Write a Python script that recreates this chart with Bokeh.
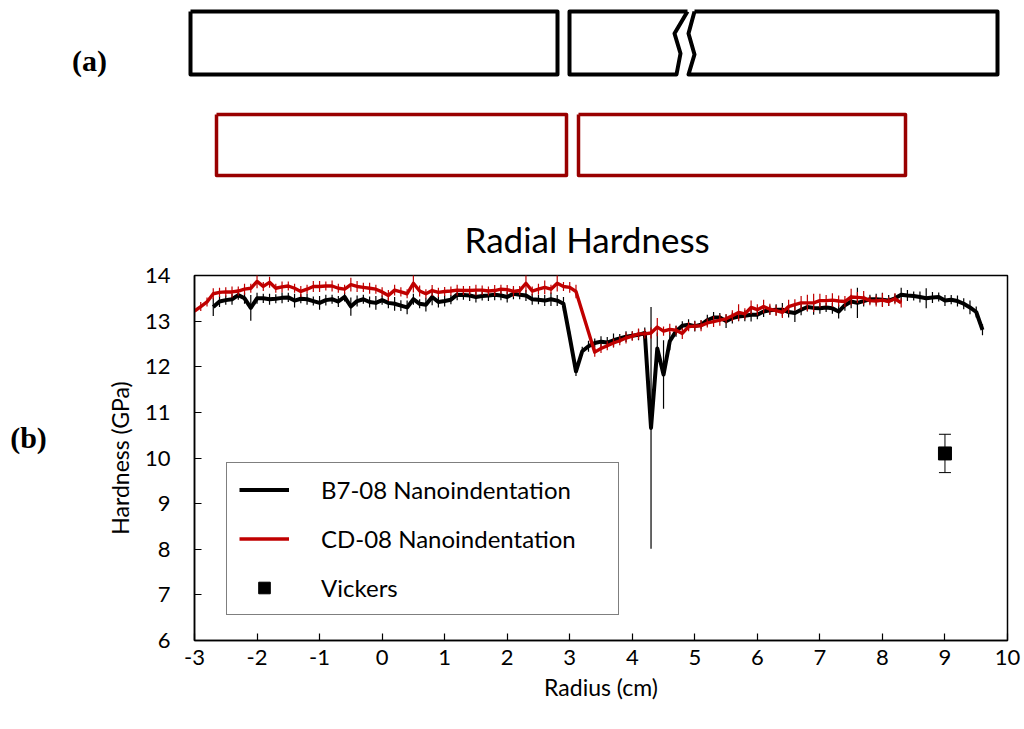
from bokeh.plotting import figure
from bokeh.layouts import column, row
from bokeh.models import (Range1d, Legend, LegendItem, Whisker, ColumnDataSource,
                          FixedTicker, TeeHead)
from bokeh.core.properties import value
from bokeh.embed import file_html
from bokeh.resources import INLINE

# ---------------- data ----------------
b7_radius = [-2.7, -2.6, -2.5, -2.4, -2.3, -2.2, -2.1, -2.0, -1.9, -1.8,
             -1.7, -1.6, -1.5, -1.4, -1.3, -1.2, -1.1, -1.0, -0.9, -0.8,
             -0.7, -0.6, -0.5, -0.4, -0.3, -0.2, -0.1, 0.0, 0.1, 0.2,
             0.3, 0.4, 0.5, 0.6, 0.7, 0.8, 0.9, 1.0, 1.1, 1.2,
             1.3, 1.4, 1.5, 1.6, 1.7, 1.8, 1.9, 2.0, 2.1, 2.2,
             2.3, 2.4, 2.5, 2.6, 2.7, 2.8, 2.9, 3.0, 3.1, 3.2,
             3.3, 3.4, 3.5, 3.6, 3.7, 3.8, 3.9, 4.0, 4.1, 4.2,
             4.3, 4.4, 4.5, 4.6, 4.7, 4.8, 4.9, 5.0, 5.1, 5.2,
             5.3, 5.4, 5.5, 5.6, 5.7, 5.8, 5.9, 6.0, 6.1, 6.2,
             6.3, 6.4, 6.5, 6.6, 6.7, 6.8, 6.9, 7.0, 7.1, 7.2,
             7.3, 7.4, 7.5, 7.6, 7.7, 7.8, 7.9, 8.0, 8.1, 8.2,
             8.3, 8.4, 8.5, 8.6, 8.7, 8.8, 8.9, 9.0, 9.1, 9.2,
             9.3, 9.4, 9.5, 9.6]
b7_hardness = [13.31, 13.43, 13.46, 13.48, 13.57, 13.50, 13.29, 13.50, 13.50, 13.48,
               13.49, 13.51, 13.52, 13.45, 13.49, 13.48, 13.44, 13.40, 13.46, 13.48,
               13.43, 13.53, 13.32, 13.44, 13.48, 13.42, 13.40, 13.46, 13.40, 13.38,
               13.34, 13.30, 13.48, 13.38, 13.36, 13.53, 13.42, 13.44, 13.47, 13.58,
               13.57, 13.56, 13.53, 13.55, 13.56, 13.58, 13.56, 13.53, 13.60, 13.58,
               13.56, 13.48, 13.47, 13.45, 13.48, 13.45, 13.38, 12.65, 11.90, 12.34,
               12.45, 12.52, 12.55, 12.53, 12.58, 12.62, 12.66, 12.68, 12.70, 12.74,
               10.66, 12.40, 11.83, 12.56, 12.78, 12.90, 12.92, 12.89, 12.92, 13.02,
               13.08, 13.08, 13.00, 13.07, 13.10, 13.12, 13.14, 13.14, 13.21, 13.24,
               13.25, 13.25, 13.20, 13.18, 13.25, 13.31, 13.29, 13.28, 13.30, 13.28,
               13.21, 13.35, 13.43, 13.40, 13.44, 13.48, 13.48, 13.47, 13.45, 13.50,
               13.58, 13.56, 13.55, 13.53, 13.50, 13.52, 13.53, 13.45, 13.47, 13.44,
               13.38, 13.30, 13.20, 12.81]
b7_err = [0.20, 0.12, 0.10, 0.12, 0.10, 0.12, 0.28, 0.12, 0.10, 0.12,
          0.10, 0.12, 0.10, 0.15, 0.10, 0.12, 0.10, 0.15, 0.12, 0.10,
          0.12, 0.10, 0.20, 0.12, 0.10, 0.12, 0.15, 0.10, 0.12, 0.15,
          0.12, 0.15, 0.12, 0.10, 0.15, 0.18, 0.12, 0.12, 0.10, 0.12,
          0.10, 0.12, 0.12, 0.10, 0.12, 0.12, 0.10, 0.12, 0.12, 0.10,
          0.12, 0.12, 0.10, 0.12, 0.15, 0.12, 0.15, 0.12, 0.10, 0.10,
          0.12, 0.10, 0.12, 0.12, 0.15, 0.10, 0.12, 0.10, 0.12, 0.12,
          2.65, 0.35, 0.75, 0.20, 0.12, 0.10, 0.12, 0.12, 0.10, 0.12,
          0.12, 0.10, 0.15, 0.12, 0.10, 0.12, 0.15, 0.10, 0.12, 0.10,
          0.12, 0.15, 0.12, 0.20, 0.12, 0.10, 0.15, 0.12, 0.10, 0.12,
          0.15, 0.12, 0.15, 0.33, 0.12, 0.10, 0.12, 0.15, 0.12, 0.10,
          0.15, 0.12, 0.10, 0.12, 0.22, 0.12, 0.10, 0.12, 0.10, 0.12,
          0.12, 0.15, 0.12, 0.12]

cd_radius = [-3.0, -2.9, -2.8, -2.7, -2.6, -2.5, -2.4, -2.3, -2.2, -2.1,
             -2.0, -1.9, -1.8, -1.7, -1.6, -1.5, -1.4, -1.3, -1.2, -1.1,
             -1.0, -0.9, -0.8, -0.7, -0.6, -0.5, -0.4, -0.3, -0.2, -0.1,
             0.0, 0.1, 0.2, 0.3, 0.4, 0.5, 0.6, 0.7, 0.8, 0.9,
             1.0, 1.1, 1.2, 1.3, 1.4, 1.5, 1.6, 1.7, 1.8, 1.9,
             2.0, 2.1, 2.2, 2.3, 2.4, 2.5, 2.6, 2.7, 2.8, 2.9,
             3.0, 3.1,
             3.4, 3.5, 3.6, 3.7, 3.8, 3.9, 4.0, 4.1, 4.2, 4.3,
             4.4, 4.5, 4.6, 4.7, 4.8, 4.9, 5.0, 5.1, 5.2, 5.3,
             5.4, 5.5, 5.6, 5.7, 5.8, 5.9, 6.0, 6.1, 6.2, 6.3,
             6.4, 6.5, 6.6, 6.7, 6.8, 6.9, 7.0, 7.1, 7.2, 7.3,
             7.4, 7.5, 7.6, 7.7, 7.8, 7.9, 8.0, 8.1, 8.2, 8.3]
cd_hardness = [13.22, 13.32, 13.42, 13.60, 13.63, 13.64, 13.64, 13.66, 13.70, 13.72,
               13.87, 13.76, 13.85, 13.72, 13.75, 13.77, 13.72, 13.65, 13.70, 13.76,
               13.76, 13.77, 13.77, 13.72, 13.70, 13.80, 13.76, 13.74, 13.72, 13.70,
               13.64, 13.56, 13.68, 13.64, 13.60, 13.83, 13.66, 13.60, 13.67, 13.63,
               13.65, 13.66, 13.68, 13.67, 13.67, 13.68, 13.68, 13.66, 13.67, 13.70,
               13.69, 13.65, 13.67, 13.83, 13.66, 13.70, 13.74, 13.70, 13.83, 13.76,
               13.74, 13.65,
               12.32, 12.40, 12.46, 12.52, 12.57, 12.63, 12.67, 12.72, 12.72, 12.74,
               12.87, 12.78, 12.82, 12.80, 12.73, 12.88, 12.89, 12.90, 12.96, 12.99,
               13.02, 13.05, 13.12, 13.19, 13.16, 13.30, 13.25, 13.32, 13.26, 13.23,
               13.19, 13.32, 13.36, 13.40, 13.40, 13.40, 13.45, 13.45, 13.46, 13.44,
               13.43, 13.53, 13.52, 13.51, 13.45, 13.44, 13.46, 13.43, 13.49, 13.40]
cd_err = [0.12, 0.10, 0.10, 0.12, 0.10, 0.10, 0.12, 0.10, 0.12, 0.10,
          0.15, 0.10, 0.12, 0.10, 0.12, 0.10, 0.10, 0.12, 0.10, 0.12,
          0.12, 0.10, 0.12, 0.10, 0.10, 0.15, 0.12, 0.10, 0.12, 0.10,
          0.10, 0.12, 0.12, 0.10, 0.10, 0.20, 0.12, 0.10, 0.12, 0.10,
          0.10, 0.10, 0.12, 0.10, 0.10, 0.12, 0.10, 0.10, 0.12, 0.10,
          0.10, 0.12, 0.10, 0.20, 0.10, 0.12, 0.15, 0.10, 0.18, 0.10,
          0.12, 0.15,
          0.10, 0.10, 0.10, 0.10, 0.10, 0.12, 0.10, 0.12, 0.10, 0.12,
          0.20, 0.10, 0.12, 0.10, 0.12, 0.10, 0.10, 0.12, 0.10, 0.12,
          0.12, 0.10, 0.12, 0.18, 0.12, 0.15, 0.12, 0.15, 0.12, 0.12,
          0.12, 0.15, 0.12, 0.15, 0.18, 0.20, 0.15, 0.12, 0.15, 0.12,
          0.12, 0.18, 0.12, 0.15, 0.10, 0.12, 0.15, 0.10, 0.12, 0.10]

vick_radius = [9.0]
vick_hardness = [10.1]
vick_err = [0.42]

x_ticks = [-3, -2, -1, 0, 1, 2, 3, 4, 5, 6, 7, 8, 9, 10]
y_ticks = [6, 7, 8, 9, 10, 11, 12, 13, 14]

# schematic (a): sample outlines in page pixels
sample_b7_xs = [[190, 557, 557, 190, 190],
                [687, 569, 569, 676, 680, 674, 687],
                [694, 997, 997, 688, 694, 688, 694]]
sample_b7_ys = [[11, 11, 74, 74, 11],
                [11, 11, 74, 74, 53, 33, 11],
                [11, 11, 74, 74, 54, 33, 11]]
sample_cd_xs = [[216, 566, 566, 216, 216],
                [578, 905, 905, 578, 578]]
sample_cd_ys = [[114, 114, 175, 175, 114],
                [114, 114, 175, 175, 114]]

FONT = "Lato"
BLACK = "#000000"
RED = "#C00000"

# ---------------- top schematic ----------------
top = figure(width=1024, height=200, x_range=Range1d(0, 1024), y_range=Range1d(200, 0),
             output_backend="svg", toolbar_location=None, min_border=0,
             x_axis_location=None, y_axis_location=None)
top.frame_align = False
top.grid.visible = False
top.outline_line_color = None
top.multi_line(xs=sample_b7_xs, ys=sample_b7_ys, line_color="black", line_width=4,
               line_join="round")
top.multi_line(xs=sample_cd_xs, ys=sample_cd_ys, line_color="#990000", line_width=3.5,
               line_join="round")
top.text(x=[89], y=[60], text=["(a)"], text_font=value("Liberation Serif"),
         text_font_style="bold", text_font_size="30px", text_align="center",
         text_baseline="middle", text_color="black")

# ---------------- panel label (b) ----------------
side = figure(width=60, height=529, x_range=Range1d(0, 60), y_range=Range1d(529, 0),
              output_backend="svg", toolbar_location=None, min_border=0,
              x_axis_location=None, y_axis_location=None)
side.frame_align = False
side.grid.visible = False
side.outline_line_color = None
side.text(x=[28], y=[237], text=["(b)"], text_font=value("Liberation Serif"),
          text_font_style="bold", text_font_size="30px", text_align="center",
          text_baseline="middle", text_color="black")

# ---------------- chart ----------------
p = figure(width=964, height=529, x_range=Range1d(-3, 10), y_range=Range1d(6, 14),
           output_backend="svg", toolbar_location=None,
           min_border_left=134, min_border_right=17, min_border_top=74,
           min_border_bottom=89, title="Radial Hardness")
p.frame_align = False
p.grid.visible = False
p.outline_line_color = "black"
p.outline_line_width = 1.5
p.background_fill_color = "white"

p.title.text_font = FONT
p.title.text_font_size = "35px"
p.title.text_font_style = "normal"
p.title.text_color = "black"
p.title.align = "left"
p.title.offset = 270
p.title.standoff = 31

p.xaxis.ticker = FixedTicker(ticks=x_ticks)
p.yaxis.ticker = FixedTicker(ticks=y_ticks)
p.xaxis.major_label_overrides = {t: str(t) for t in x_ticks}
p.yaxis.major_label_overrides = {t: str(t) for t in y_ticks}
p.xaxis.axis_label = "Radius (cm)"
p.yaxis.axis_label = "Hardness (GPa)"
for ax in (p.xaxis, p.yaxis):
    ax.axis_line_color = "black"
    ax.axis_line_width = 1.5
    ax.major_tick_line_color = "black"
    ax.major_tick_line_width = 1.2
    ax.major_tick_in = 7
    ax.major_tick_out = 0
    ax.minor_tick_line_color = None
    ax.major_label_text_font = FONT
    ax.major_label_text_font_size = "22px"
    ax.major_label_text_color = "black"
    ax.axis_label_text_font = FONT
    ax.axis_label_text_font_size = "23px"
    ax.axis_label_text_font_style = "normal"
    ax.axis_label_text_color = "black"
p.xaxis.major_label_standoff = 9
p.xaxis.axis_label_standoff = 5
p.yaxis.major_label_standoff = 24
p.yaxis.axis_label_standoff = 8

b7_src = ColumnDataSource(dict(
    x=b7_radius, y=b7_hardness,
    lo=[h - e for h, e in zip(b7_hardness, b7_err)],
    hi=[h + e for h, e in zip(b7_hardness, b7_err)]))
cd_src = ColumnDataSource(dict(
    x=cd_radius, y=cd_hardness,
    lo=[h - e for h, e in zip(cd_hardness, cd_err)],
    hi=[h + e for h, e in zip(cd_hardness, cd_err)]))
vk_src = ColumnDataSource(dict(
    x=vick_radius, y=vick_hardness,
    lo=[h - e for h, e in zip(vick_hardness, vick_err)],
    hi=[h + e for h, e in zip(vick_hardness, vick_err)]))

p.segment(x0="x", y0="lo", x1="x", y1="hi", source=b7_src, line_color=BLACK, line_width=1.2)
b7_line = p.line("x", "y", source=b7_src, line_color=BLACK, line_width=4, line_join="round")
p.segment(x0="x", y0="lo", x1="x", y1="hi", source=cd_src, line_color=RED, line_width=1.2)
cd_line = p.line("x", "y", source=cd_src, line_color=RED, line_width=3.4, line_join="round")

p.add_layout(Whisker(source=vk_src, base="x", upper="hi", lower="lo", dimension="height",
                     line_color="black", line_width=1,
                     upper_head=TeeHead(size=12, line_color="black", line_width=1),
                     lower_head=TeeHead(size=12, line_color="black", line_width=1)))
vk = p.scatter("x", "y", source=vk_src, marker="square", size=13, fill_color="black",
               line_color="black")

legend = Legend(items=[LegendItem(label="B7-08 Nanoindentation", renderers=[b7_line]),
                       LegendItem(label="CD-08 Nanoindentation", renderers=[cd_line]),
                       LegendItem(label="Vickers", renderers=[vk])],
                location=(32, 25), margin=0, padding=12, spacing=20,
                glyph_width=50, glyph_height=29, label_height=29, label_width=285,
                label_standoff=32,
                label_text_font=FONT, label_text_font_size="24px",
                label_text_color="black", label_text_baseline="middle",
                border_line_color="black", border_line_width=1.5,
                background_fill_color="white", background_fill_alpha=1)
p.add_layout(legend)

layout = column(top, row(side, p, spacing=0), spacing=0)
open("out.html", "w").write(file_html(layout, INLINE))
